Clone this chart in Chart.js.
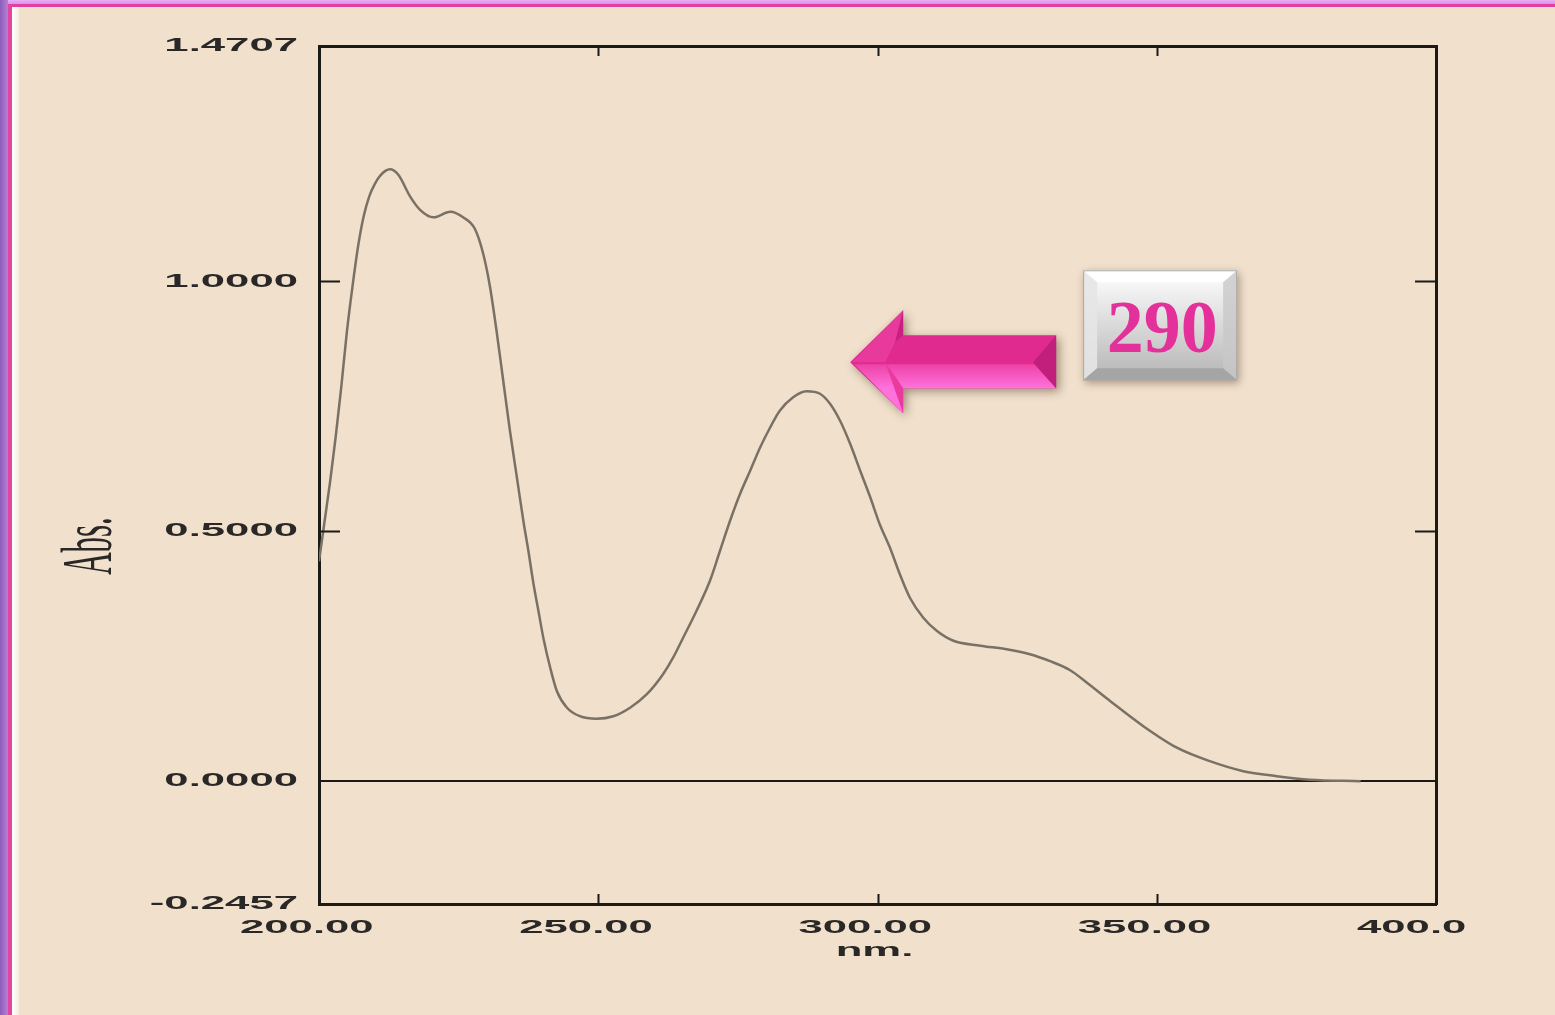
<!DOCTYPE html>
<html>
<head>
<meta charset="utf-8">
<script src="https://cdn.jsdelivr.net/npm/chart.js@4.4.1/dist/chart.umd.min.js"></script>
<style>
  html, body { margin: 0; padding: 0; background: #f0e0cc; overflow: hidden; }
  #wrap { position: relative; width: 1555px; height: 1015px; }
  #c { position: absolute; left: 0; top: 0; }
  .edge { position: absolute; }
</style>
</head>
<body>
<div id="wrap">
  <canvas id="c" width="1555" height="1015"></canvas>
  <div class="edge" style="left:0;top:0;width:1555px;height:5px;background:linear-gradient(#e7b0f7,#d48ce8);"></div>
  <div class="edge" style="left:0;top:4px;width:1555px;height:3px;background:#e2409c;"></div>
  <div class="edge" style="left:0;top:0;width:8px;height:1015px;background:linear-gradient(to right,#8c5cb8,#b383d8);"></div>
  <div class="edge" style="left:8px;top:4px;width:4px;height:1011px;background:#e2449f;"></div>
  <div class="edge" style="left:12px;top:7px;width:7px;height:1008px;background:linear-gradient(to right,#ffffff,#f6ece0);"></div>
</div>
<script>
// UV spectrum, wavelength (nm) vs absorbance
var wavelengths = [200.0, 201.0, 202.0, 203.0, 204.0, 205.0, 206.0, 207.0, 208.0, 209.0, 210.0, 211.0, 212.7, 214.2,
  216.3, 218.1, 220.5, 223.5, 225.8, 227.9, 229.4, 230.6, 231.8, 233.0, 234.2, 235.4, 236.6, 237.5, 238.4, 239.3,
  240.2, 241.4, 242.6, 244.4, 246.7, 249.7, 252.7, 255.7, 258.7, 261.6, 263.4, 265.2, 267.6, 270.0, 271.8, 273.6,
  275.4, 277.2, 279.0, 280.8, 282.5, 284.9, 287.3, 289.7, 291.5, 293.3, 295.1, 296.9, 298.7, 300.4, 302.2, 304.0,
  305.8, 308.2, 310.6, 313.6, 318.4, 323.1, 327.3, 330.9, 334.5, 337.5, 341.7, 347.6, 353.6, 359.5, 365.5, 371.5,
  377.4, 386.5];
var absorbance = [0.440, 0.520, 0.600, 0.690, 0.790, 0.900, 0.990, 1.070, 1.130, 1.170, 1.195, 1.212, 1.224, 1.213,
  1.170, 1.143, 1.128, 1.139, 1.128, 1.105, 1.055, 0.990, 0.900, 0.800, 0.700, 0.610, 0.520, 0.460, 0.395, 0.340,
  0.285, 0.227, 0.180, 0.147, 0.130, 0.125, 0.130, 0.147, 0.174, 0.214, 0.247, 0.287, 0.341, 0.401, 0.461, 0.521,
  0.575, 0.621, 0.668, 0.708, 0.741, 0.768, 0.780, 0.775, 0.755, 0.721, 0.675, 0.621, 0.568, 0.514, 0.468, 0.414,
  0.367, 0.327, 0.301, 0.281, 0.271, 0.264, 0.254, 0.240, 0.222, 0.197, 0.160, 0.110, 0.067, 0.040, 0.020, 0.010,
  0.003, 0.000];

var yTickValues = [-0.2457, 0.0, 0.5, 1.0, 1.4707];
var yTickLabels = ['-0.2457', '0.0000', '0.5000', '1.0000', '1.4707'];
var yTickMarks = [0.5, 1.0];
var xTickValues = [200, 250, 300, 350, 400];
var xTickLabels = ['200.00', '250.00', '300.00', '350.00', '400.0'];
var xTickMarks = [250, 300, 350];
var xTitle = 'nm.';
var yTitle = 'Abs.';
var peakLabel = '290';
var arrowTip = { x: 295.1, y: 0.838 }; // where the arrow head points

var axisColor = '#1c1a18';
var textColor = '#2a2826';
var curveColor = '#7a7165';

var points = [];
for (var i = 0; i < wavelengths.length; i++) {
  points.push({ x: wavelengths[i], y: absorbance[i] });
}

function stretched(ctx, text, x, y, align) {
  ctx.save();
  ctx.translate(x, y);
  ctx.scale(2.3, 1);
  ctx.textAlign = align;
  ctx.textBaseline = 'middle';
  ctx.fillText(text, 0, 0);
  ctx.restore();
}

function seg(ctx, x1, y1, x2, y2) {
  ctx.beginPath();
  ctx.moveTo(x1, y1);
  ctx.lineTo(x2, y2);
  ctx.stroke();
}

function poly(ctx, pts, fill) {
  ctx.beginPath();
  ctx.moveTo(pts[0][0], pts[0][1]);
  for (var k = 1; k < pts.length; k++) ctx.lineTo(pts[k][0], pts[k][1]);
  ctx.closePath();
  ctx.fillStyle = fill;
  ctx.fill();
}

var overlay = {
  id: 'overlay',
  afterDraw: function(chart) {
    var ctx = chart.ctx, xs = chart.scales.x, ys = chart.scales.y, a = chart.chartArea;
    ctx.save();
    // inward tick marks
    ctx.strokeStyle = axisColor;
    ctx.lineWidth = 2;
    yTickMarks.forEach(function(v) {
      var py = Math.round(ys.getPixelForValue(v)) + 0.5;
      seg(ctx, a.left, py, a.left + 21, py);
      seg(ctx, a.right - 21, py, a.right, py);
    });
    xTickMarks.forEach(function(v) {
      var px = Math.round(xs.getPixelForValue(v)) + 0.5;
      seg(ctx, px, a.bottom, px, a.bottom - 10);
      seg(ctx, px, a.top, px, a.top + 10);
    });

    // tick labels (wide, stretched look of the instrument printout)
    ctx.fillStyle = textColor;
    ctx.font = 'bold 19px "Liberation Sans", Arial, sans-serif';
    yTickLabels.forEach(function(t, i) {
      stretched(ctx, t, a.left - 21, ys.getPixelForValue(yTickValues[i]), 'right');
    });
    xTickLabels.forEach(function(t, i) {
      stretched(ctx, t, xs.getPixelForValue(xTickValues[i]) - 79, a.bottom + 24, 'left');
    });
    stretched(ctx, xTitle, (a.left + a.right) / 2 - 3, a.bottom + 47, 'center');

    // y title, rotated serif
    ctx.save();
    ctx.translate(a.left - 227, a.top + 500);
    ctx.scale(2.3, 1);
    ctx.rotate(-Math.PI / 2);
    ctx.font = '31px "Liberation Serif", "Times New Roman", serif';
    ctx.textAlign = 'center';
    ctx.textBaseline = 'middle';
    ctx.fillStyle = textColor;
    ctx.fillText(yTitle, 0, 0);
    ctx.restore();

    // arrow pointing at the 290 nm band
    var tx = xs.getPixelForValue(arrowTip.x), ty = ys.getPixelForValue(arrowTip.y);
    var hx = tx + 53, sx = tx + 206;
    var outline = [[tx, ty], [hx, ty - 52], [hx, ty - 27], [sx, ty - 27], [sx, ty + 26], [hx, ty + 26], [hx, ty + 51]];
    ctx.save();
    ctx.shadowColor = 'rgba(60,30,10,0.45)';
    ctx.shadowBlur = 10;
    ctx.shadowOffsetX = 3;
    ctx.shadowOffsetY = 3;
    poly(ctx, outline, '#e02a8f');
    ctx.restore();
    var g = ctx.createLinearGradient(0, ty, 0, ty + 26);
    g.addColorStop(0, '#ec3ea2');
    g.addColorStop(1, '#ff72dc');
    poly(ctx, [[tx + 4, ty + 2], [hx + 30, ty + 2], [sx - 22, ty + 2], [sx, ty + 26], [hx, ty + 26], [hx, ty + 51]], g);
    poly(ctx, [[sx - 23, ty], [sx, ty - 27], [sx, ty + 26]], '#c01f7c');
    poly(ctx, [[tx + 2, ty], [hx, ty - 52], [hx - 8, ty - 20], [hx - 18, ty]], '#e8399c');
    poly(ctx, [[hx - 18, ty], [hx, ty + 51], [hx, ty + 26], [hx - 8, ty + 14]], '#ea3a9f');
    poly(ctx, [[hx - 8, ty - 20], [hx, ty - 52], [hx, ty - 27]], '#c8207f');

    // label box
    var bx = tx + 233, by = ty - 92, bw = 154, bh = 110;
    ctx.save();
    ctx.shadowColor = 'rgba(60,30,10,0.4)';
    ctx.shadowBlur = 8;
    ctx.shadowOffsetX = 2;
    ctx.shadowOffsetY = 3;
    var bg = ctx.createLinearGradient(0, by, 0, by + bh);
    bg.addColorStop(0, '#ffffff');
    bg.addColorStop(1, '#b4b4b4');
    ctx.fillStyle = bg;
    ctx.fillRect(bx, by, bw, bh);
    ctx.restore();
    poly(ctx, [[bx, by], [bx + bw, by], [bx + bw - 14, by + 12], [bx + 14, by + 12]], 'rgba(255,255,255,0.9)');
    poly(ctx, [[bx, by], [bx + 14, by + 12], [bx + 14, by + bh - 12], [bx, by + bh]], 'rgba(230,230,230,0.9)');
    poly(ctx, [[bx + bw, by], [bx + bw, by + bh], [bx + bw - 14, by + bh - 12], [bx + bw - 14, by + 12]], 'rgba(200,200,200,0.8)');
    poly(ctx, [[bx, by + bh], [bx + 14, by + bh - 12], [bx + bw - 14, by + bh - 12], [bx + bw, by + bh]], 'rgba(160,160,160,0.8)');
    ctx.strokeStyle = '#a8a8a8';
    ctx.lineWidth = 1;
    ctx.strokeRect(bx + 0.5, by + 0.5, bw - 1, bh - 1);
    ctx.font = 'bold 74px "Liberation Serif", "Times New Roman", serif';
    ctx.textAlign = 'center';
    ctx.textBaseline = 'alphabetic';
    ctx.fillStyle = '#e4309a';
    ctx.fillText(peakLabel, bx + bw / 2 + 2, by + 82);
    ctx.restore();
  }
};

var ctx = document.getElementById('c').getContext('2d');
var chart = new Chart(ctx, {
  type: 'line',
  data: {
    datasets: [{
      data: points,
      borderColor: curveColor,
      borderWidth: 2.5,
      pointRadius: 0,
      fill: false,
      cubicInterpolationMode: 'monotone'
    }]
  },
  options: {
    responsive: false,
    devicePixelRatio: 1,
    animation: false,
    layout: { padding: { left: 319, right: 119, top: 46, bottom: 111 } },
    plugins: { legend: { display: false }, tooltip: { enabled: false } },
    scales: {
      x: {
        type: 'linear', min: 200, max: 400,
        ticks: { display: false },
        grid: { display: false, drawTicks: false },
        border: { display: true, color: axisColor, width: 3 }
      },
      x2: {
        type: 'linear', position: 'top', min: 200, max: 400,
        ticks: { display: false },
        grid: { display: false, drawTicks: false },
        border: { display: true, color: axisColor, width: 3 }
      },
      y: {
        type: 'linear', min: -0.2457, max: 1.4707,
        afterBuildTicks: function(scale) {
          scale.ticks = yTickValues.map(function(v) { return { value: v }; });
        },
        ticks: { display: false },
        grid: {
          drawTicks: false,
          lineWidth: 2,
          color: function(c) { return c.tick && c.tick.value === 0 ? axisColor : 'rgba(0,0,0,0)'; }
        },
        border: { display: true, color: axisColor, width: 3 }
      },
      y2: {
        type: 'linear', position: 'right', min: -0.2457, max: 1.4707,
        ticks: { display: false },
        grid: { display: false, drawTicks: false },
        border: { display: true, color: axisColor, width: 3 }
      }
    }
  },
  plugins: [overlay]
});
</script>
</body>
</html>
